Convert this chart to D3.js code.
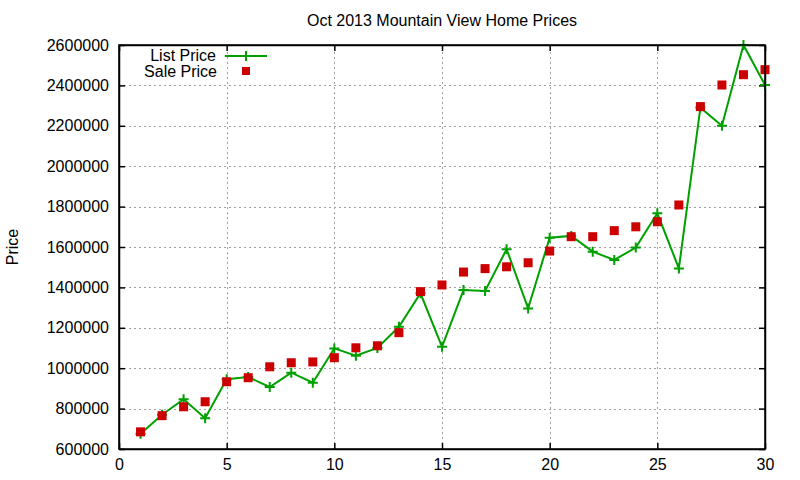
<!DOCTYPE html>
<html>
<head>
<meta charset="utf-8">
<script src="https://cdn.jsdelivr.net/npm/d3@7"></script>
<style>
  body { margin: 0; background: #fff; }
  text { font-family: "Liberation Sans", Arial, sans-serif; fill: #000; }
</style>
</head>
<body>
<script>
// data
var days = [1, 2, 3, 4, 5, 6, 7, 8, 9, 10, 11, 12, 13, 14, 15, 16, 17, 18, 19, 20, 21, 22, 23, 24, 25, 26, 27, 28, 29, 30]
var listPrice = [675000, 770000, 846000, 752000, 945000, 956000, 907000, 978000, 928000, 1098000,
  1062000, 1100000, 1205000, 1371000, 1106000, 1387000, 1382000, 1589000, 1296000, 1646000,
  1655000, 1577000, 1536000, 1597000, 1767000, 1494000, 2290000, 2200000, 2600000, 2402000]
var salePrice = [685000, 765000, 809000, 834000, 933000, 953000, 1007000, 1027000, 1031000, 1052000,
  1101000, 1111000, 1176000, 1379000, 1412000, 1476000, 1493000, 1502000, 1522000, 1580000,
  1651000, 1651000, 1681000, 1700000, 1725000, 1808000, 2295000, 2402000, 2453000, 2478000]
var xTicks = [0, 5, 10, 15, 20, 25, 30]
var yTicks = [600000, 800000, 1000000, 1200000, 1400000, 1600000, 1800000, 2000000, 2200000, 2400000, 2600000]

var W = 800, H = 480
var m = { left: 119, right: 35, top: 45, bottom: 31 }
var green = '#00a000', red = '#cc0000'

var svg = d3.select('body').append('svg')
  .attr('width', W)
  .attr('height', H)

var x = d3.scaleLinear().domain([0, 30]).range([m.left, W - m.right])
var y = d3.scaleLinear().domain([600000, 2600000]).range([H - m.bottom, m.top])

// grid
svg.append('g').selectAll('line').data(yTicks.slice(1, -1)).enter()
  .append('line')
  .attr('x1', x(0)).attr('x2', x(30))
  .attr('y1', function(d) { return Math.round(y(d)) + 0.5 })
  .attr('y2', function(d) { return Math.round(y(d)) + 0.5 })
  .attr('stroke', '#a0a0a0').attr('stroke-dasharray', '2,3')
svg.append('g').selectAll('line').data(xTicks.slice(1, -1)).enter()
  .append('line')
  .attr('y1', y(600000)).attr('y2', y(2600000))
  .attr('x1', function(d) { return Math.round(x(d)) + 0.5 })
  .attr('x2', function(d) { return Math.round(x(d)) + 0.5 })
  .attr('stroke', '#a0a0a0').attr('stroke-dasharray', '2,3')

// axes, ticks pointing inward, mirrored
var fmt = function(d) { return '' + d }
var axL = svg.append('g').attr('transform', 'translate(' + x(0) + ',0)')
  .call(d3.axisLeft(y).tickValues(yTicks).tickFormat(fmt).tickSizeInner(-6).tickSizeOuter(0).tickPadding(10))
var axR = svg.append('g').attr('transform', 'translate(' + x(30) + ',0)')
  .call(d3.axisRight(y).tickValues(yTicks).tickFormat('').tickSizeInner(-6).tickSizeOuter(0))
var axB = svg.append('g').attr('transform', 'translate(0,' + y(600000) + ')')
  .call(d3.axisBottom(x).tickValues(xTicks).tickFormat(fmt).tickSizeInner(-6).tickSizeOuter(0).tickPadding(10))
var axT = svg.append('g').attr('transform', 'translate(0,' + y(2600000) + ')')
  .call(d3.axisTop(x).tickValues(xTicks).tickFormat('').tickSizeInner(-6).tickSizeOuter(0))
;[axL, axR, axB, axT].forEach(function(a) {
  a.selectAll('path, line').attr('stroke', '#000').attr('stroke-width', 1.5)
  a.selectAll('text').style('font-size', '16px').attr('font-family', '"Liberation Sans", Arial, sans-serif')
})
axB.selectAll('text').attr('dy', '0.71em')

// list price line
var line = d3.line()
  .x(function(d, i) { return x(days[i]) })
  .y(function(d) { return y(d) })
svg.append('path').datum(listPrice)
  .attr('d', line)
  .attr('fill', 'none')
  .attr('stroke', green)
  .attr('stroke-width', 2)

function plus(g, cx, cy) {
  g.append('path')
    .attr('d', 'M' + (cx - 5) + ',' + cy + 'H' + (cx + 5) + 'M' + cx + ',' + (cy - 5) + 'V' + (cy + 5))
    .attr('stroke', green).attr('stroke-width', 2)
}
var pl = svg.append('g')
listPrice.forEach(function(d, i) { plus(pl, x(days[i]), y(d)) })

// sale price squares
svg.append('g').selectAll('rect').data(salePrice).enter()
  .append('rect')
  .attr('x', function(d, i) { return x(days[i]) - 4.5 })
  .attr('y', function(d) { return y(d) - 4.5 })
  .attr('width', 9)
  .attr('height', 9)
  .attr('fill', red)

// border on top
svg.append('rect')
  .attr('x', x(0)).attr('y', y(2600000))
  .attr('width', x(30) - x(0)).attr('height', y(600000) - y(2600000))
  .attr('fill', 'none').attr('stroke', '#000').attr('stroke-width', 1.5)

// title + y label
svg.append('text')
  .attr('x', (x(0) + x(30)) / 2).attr('y', 26)
  .attr('text-anchor', 'middle')
  .style('font-size', '16px')
  .text('Oct 2013 Mountain View Home Prices')
svg.append('text')
  .attr('transform', 'translate(18,' + ((y(600000) + y(2600000)) / 2) + ') rotate(-90)')
  .attr('text-anchor', 'middle')
  .style('font-size', '16px')
  .text('Price')

// legend
var lg = svg.append('g')
lg.append('text').attr('x', 216).attr('y', 61).attr('text-anchor', 'end').style('font-size', '16px').text('List Price')
lg.append('text').attr('x', 217).attr('y', 77).attr('text-anchor', 'end').style('font-size', '16px').text('Sale Price')
lg.append('line').attr('x1', 225).attr('x2', 267).attr('y1', 56).attr('y2', 56)
  .attr('stroke', green).attr('stroke-width', 2)
plus(lg, 246, 56)
lg.append('rect').attr('x', 242).attr('y', 67).attr('width', 8).attr('height', 8).attr('fill', red)
</script>
</body>
</html>
